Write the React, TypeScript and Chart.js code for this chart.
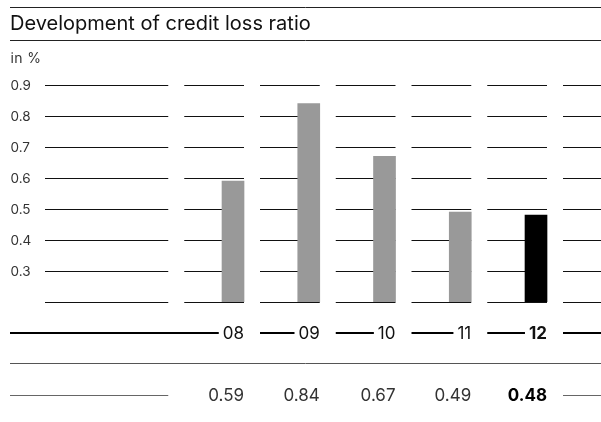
import React, { useEffect, useRef } from "react";
import { Chart, registerables } from "chart.js";

Chart.register(...registerables);

const title = "Development of credit loss ratio";
const unitLabel = "in %";
const years = [2008, 2009, 2010, 2011, 2012];
const yearLabels = ["08", "09", "10", "11", "12"];
const ratios = [0.59, 0.84, 0.67, 0.49, 0.48];
const valueLabels = ["0.59", "0.84", "0.67", "0.49", "0.48"];
const yTicks = [0.3, 0.4, 0.5, 0.6, 0.7, 0.8, 0.9];
const yTickLabels = ["0.3", "0.4", "0.5", "0.6", "0.7", "0.8", "0.9"];
const highlightYear = 2012;

const FONT = "Inter, 'Liberation Sans', Arial, sans-serif";
const BAR = 22;
const GAP = 16;

const overlay = {
  id: "overlay",
  beforeDatasetsDraw(chart: any) {
    const ctx = chart.ctx;
    const xs = chart.scales.x;
    const ys = chart.scales.y;
    const ca = chart.chartArea;
    const W = chart.width;
    const step = xs.getPixelForValue(years[1]) - xs.getPixelForValue(years[0]);
    const cols = [years[0] - 1, ...years, years[years.length - 1] + 1];
    ctx.save();
    ctx.strokeStyle = "#111";
    ctx.lineWidth = 1;
    const levels = [ys.min, ...yTicks];
    levels.forEach((v) => {
      const py = Math.round(ys.getPixelForValue(v)) + 0.5;
      cols.forEach((yr, i) => {
        const right = xs.getPixelForValue(yr) + BAR / 2;
        const left = i === 0 ? ca.left : right - step + GAP;
        ctx.beginPath();
        ctx.moveTo(left, py);
        ctx.lineTo(Math.min(right, W), py);
        ctx.stroke();
      });
    });
    ctx.restore();
  },
  afterDraw(chart: any) {
    const ctx = chart.ctx;
    const xs = chart.scales.x;
    const ys = chart.scales.y;
    const ca = chart.chartArea;
    const W = chart.width;
    const L = 10;
    const step = xs.getPixelForValue(years[1]) - xs.getPixelForValue(years[0]);
    ctx.save();
    // title block
    ctx.strokeStyle = "#222";
    ctx.lineWidth = 1;
    ctx.beginPath();
    ctx.moveTo(L, 7.5);
    ctx.lineTo(W, 7.5);
    ctx.moveTo(L, 40.5);
    ctx.lineTo(W, 40.5);
    ctx.stroke();
    ctx.fillStyle = "#111";
    ctx.textAlign = "left";
    ctx.textBaseline = "alphabetic";
    ctx.font = `20px ${FONT}`;
    ctx.fillText(title, L, 30);
    ctx.fillStyle = "#333";
    ctx.font = `14px ${FONT}`;
    ctx.letterSpacing = "0.4px";
    ctx.fillText(unitLabel, L + 0.5, 63);
    ctx.letterSpacing = "0px";

    // y tick labels
    ctx.textBaseline = "middle";
    ctx.font = `13.5px ${FONT}`;
    ctx.fillStyle = "#333";
    yTicks.forEach((v, i) => {
      ctx.fillText(yTickLabels[i], L + 0.5, ys.getPixelForValue(v) + 1);
    });

    // year row
    const yearY = ca.bottom + 31;
    const sepY = ca.bottom + 61.5;
    const valY = ca.bottom + 93;
    ctx.strokeStyle = "#000";
    ctx.lineWidth = 2;
    years.forEach((yr, i) => {
      const right = xs.getPixelForValue(yr) + BAR / 2;
      const bold = yr === highlightYear;
      ctx.font = `${bold ? "bold " : ""}17px ${FONT}`;
      const tw = ctx.measureText(yearLabels[i]).width;
      const colLeft = i === 0 ? L : right - step + GAP;
      ctx.beginPath();
      ctx.moveTo(colLeft, yearY);
      ctx.lineTo(right - tw - 4, yearY);
      ctx.stroke();
      ctx.fillStyle = "#111";
      ctx.textAlign = "right";
      ctx.fillText(yearLabels[i], right, yearY + 0.5);
    });
    const lastRight = xs.getPixelForValue(years[years.length - 1] + 1) + BAR / 2;
    const lastLeft = lastRight - step + GAP;
    ctx.beginPath();
    ctx.moveTo(lastLeft, yearY);
    ctx.lineTo(W, yearY);
    ctx.stroke();

    // separator
    ctx.strokeStyle = "#555";
    ctx.lineWidth = 1;
    ctx.beginPath();
    ctx.moveTo(L, sepY);
    ctx.lineTo(W, sepY);
    ctx.stroke();

    // value row
    const firstRight = xs.getPixelForValue(years[0] - 1) + BAR / 2;
    ctx.strokeStyle = "#666";
    ctx.beginPath();
    ctx.moveTo(L, valY + 0.5);
    ctx.lineTo(firstRight, valY + 0.5);
    ctx.moveTo(lastLeft, valY + 0.5);
    ctx.lineTo(W, valY + 0.5);
    ctx.stroke();
    years.forEach((yr, i) => {
      const right = xs.getPixelForValue(yr) + BAR / 2;
      const bold = yr === highlightYear;
      ctx.font = `${bold ? "bold " : ""}17px ${FONT}`;
      ctx.fillStyle = bold ? "#000" : "#333";
      ctx.textAlign = "right";
      ctx.fillText(valueLabels[i], right, valY + 0.5);
    });
    ctx.restore();
  },
};

export default function App() {
  const ref = useRef<HTMLCanvasElement>(null);
  useEffect(() => {
    if (!ref.current) return;
    const chart = new Chart(ref.current, {
      type: "bar",
      data: {
        datasets: [
          {
            data: years.map((x, i) => ({ x, y: ratios[i] })),
            backgroundColor: years.map((yr) => (yr === highlightYear ? "#000000" : "#999999")),
            barThickness: BAR,
            borderWidth: 0,
          },
        ],
      },
      options: {
        animation: false,
        responsive: false,
        devicePixelRatio: 1,
        layout: { padding: { left: 45, right: 0, top: 85, bottom: 120 } },
        scales: {
          x: { type: "linear", min: 2005.518, max: 2012.858, offset: false, display: false },
          y: { type: "linear", min: 0.2, max: 0.9, display: false },
        },
        plugins: { legend: { display: false }, tooltip: { enabled: false }, title: { display: false } },
      },
      plugins: [overlay],
    });
    return () => chart.destroy();
  }, []);
  return (
    <div style={{ position: "fixed", left: 0, top: 0, width: 601, height: 422, background: "#fff", overflow: "hidden" }}>
      <canvas ref={ref} width={601} height={422} style={{ display: "block" }} />
    </div>
  );
}
